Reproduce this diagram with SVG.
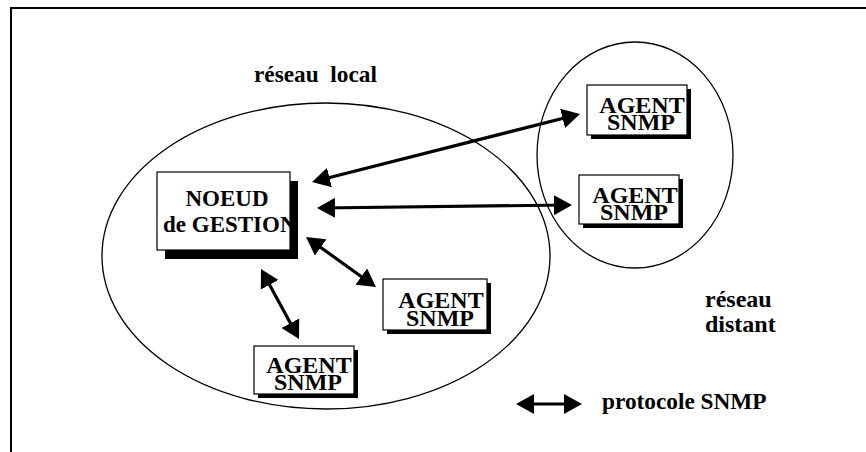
<svg xmlns="http://www.w3.org/2000/svg" width="866" height="452" viewBox="0 0 866 452">
  <style>
    .frame { fill: none; stroke: #000; stroke-width: 2; }
    .zone { fill: none; stroke: #000; stroke-width: 1.3; }
    .box { fill: #fff; stroke: #000; stroke-width: 1.2; }
    .shadow { fill: #000; }
    .lbl { font-family: "Liberation Serif", "Times New Roman", serif; font-weight: bold; fill: #000; }
    .agent { font-size: 24px; text-anchor: middle; }
    .link { stroke: #000; stroke-width: 3.2; fill: none; marker-start: url(#head); marker-end: url(#head); }
  </style>
  <defs>
    <marker id="head" viewBox="0 0 18 20" refX="14" refY="10" markerWidth="18" markerHeight="20" markerUnits="userSpaceOnUse" orient="auto-start-reverse">
      <path d="M0,0 L18,10 L0,20 Z" fill="#000"/>
    </marker>
    <!-- node label is cut at the right edge of its box -->
    <clipPath id="noeud-clip">
      <rect x="157" y="172" width="133" height="78"/>
    </clipPath>
  </defs>

  <rect width="866" height="452" fill="#fff"/>

  <!-- page frame: top and left rules -->
  <path class="frame" d="M11,452 L11,8 L866,8"/>

  <!-- network zones -->
  <g id="zone-local">
    <ellipse class="zone" cx="326" cy="256" rx="224" ry="153"/>
    <text class="lbl" x="254" y="82" font-size="23.3" style="white-space:pre">réseau  local</text>
  </g>
  <g id="zone-distant">
    <ellipse class="zone" cx="635" cy="155" rx="98" ry="113"/>
    <text class="lbl" x="705" y="307" font-size="24">réseau</text>
    <text class="lbl" x="705" y="332" font-size="24">distant</text>
  </g>

  <!-- connectors -->
  <g id="connectors">
    <line class="link" x1="315.9" y1="181" x2="576.1" y2="115"/>
    <line class="link" x1="321" y1="208" x2="568" y2="205"/>
    <line class="link" x1="309.3" y1="239.3" x2="372.7" y2="284.7"/>
    <line class="link" x1="262.9" y1="272.5" x2="297.1" y2="335.5"/>
  </g>

  <!-- management node -->
  <g id="noeud-gestion">
    <rect class="shadow" x="165" y="181" width="133" height="78"/>
    <rect class="box" x="157" y="172" width="133" height="78"/>
    <g clip-path="url(#noeud-clip)">
      <text class="lbl" x="227" y="206" font-size="23" text-anchor="middle">NOEUD</text>
      <text class="lbl" x="163" y="232" font-size="23">de GESTION</text>
    </g>
  </g>

  <!-- agents -->
  <g id="agent-distant-1">
    <rect class="shadow" x="591" y="89" width="100" height="50"/>
    <rect class="box" x="587" y="85" width="100" height="50"/>
    <text class="lbl agent" x="642" y="113">AGENT</text>
    <text class="lbl agent" x="641" y="130">SNMP</text>
  </g>
  <g id="agent-distant-2">
    <rect class="shadow" x="583" y="179" width="100" height="49"/>
    <rect class="box" x="579" y="175" width="100" height="49"/>
    <text class="lbl agent" x="635" y="203">AGENT</text>
    <text class="lbl agent" x="634" y="220">SNMP</text>
  </g>
  <g id="agent-local-1">
    <rect class="shadow" x="387" y="283" width="104" height="51"/>
    <rect class="box" x="383" y="279" width="104" height="51"/>
    <text class="lbl agent" x="441" y="308">AGENT</text>
    <text class="lbl agent" x="440" y="326">SNMP</text>
  </g>
  <g id="agent-local-2">
    <rect class="shadow" x="258" y="350" width="100" height="48"/>
    <rect class="box" x="254" y="346" width="100" height="48"/>
    <text class="lbl agent" x="309" y="373">AGENT</text>
    <text class="lbl agent" x="308" y="390">SNMP</text>
  </g>

  <!-- legend -->
  <g id="legend">
    <line class="link" x1="520" y1="404" x2="578" y2="404"/>
    <text class="lbl" x="602" y="409" font-size="23.3">protocole SNMP</text>
  </g>
</svg>
